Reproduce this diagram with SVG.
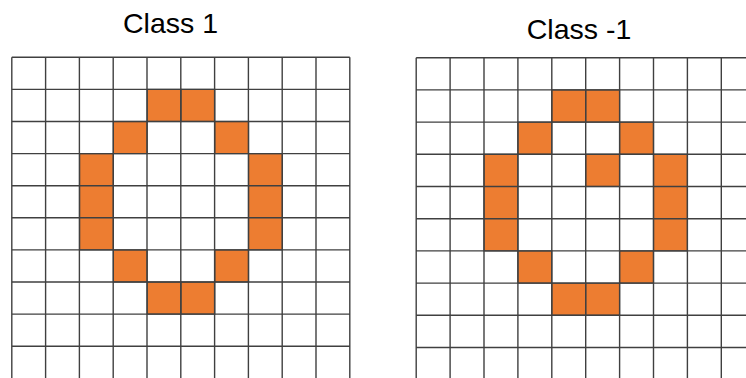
<svg xmlns="http://www.w3.org/2000/svg" width="746" height="378" viewBox="0 0 746 378">
<defs>
<style>
.t{font-family:"Liberation Sans",Arial,sans-serif;font-size:28.5px;fill:#000;text-anchor:middle}
.g{stroke:#404040;stroke-width:1.4;fill:none}
.o{fill:#ED7D31;stroke:#404040;stroke-width:1.2}
</style>
</defs>
<rect width="746" height="378" fill="#fff"/>
<g id="left">
<text class="t" x="170.5" y="32.5">Class 1</text>
<g id="left-cells">
<rect class="o" x="147.2" y="89.4" width="33.8" height="32.1"/>
<rect class="o" x="181" y="89.4" width="33.8" height="32.1"/>
<rect class="o" x="113.4" y="121.5" width="33.8" height="32.1"/>
<rect class="o" x="214.8" y="121.5" width="33.8" height="32.1"/>
<rect class="o" x="79.6" y="153.6" width="33.8" height="96.3"/>
<rect class="o" x="248.6" y="153.6" width="33.8" height="96.3"/>
<rect class="o" x="113.4" y="249.9" width="33.8" height="32.1"/>
<rect class="o" x="214.8" y="249.9" width="33.8" height="32.1"/>
<rect class="o" x="147.2" y="282" width="33.8" height="32.1"/>
<rect class="o" x="181" y="282" width="33.8" height="32.1"/>
</g>
<path class="g" d="M11.8 57.3V378.3M45.6 57.3V378.3M79.4 57.3V378.3M113.2 57.3V378.3M147 57.3V378.3M180.8 57.3V378.3M214.6 57.3V378.3M248.4 57.3V378.3M282.2 57.3V378.3M316 57.3V378.3M349.8 57.3V378.3M11.8 57.3H349.8M11.8 89.4H349.8M11.8 121.5H349.8M11.8 153.6H349.8M11.8 185.7H349.8M11.8 217.8H349.8M11.8 249.9H349.8M11.8 282H349.8M11.8 314.1H349.8M11.8 346.2H349.8"/>
</g>
<g id="right">
<text class="t" x="579" y="39.3">Class -1</text>
<g id="right-cells">
<rect class="o" x="551.8" y="89.9" width="33.9" height="32.2"/>
<rect class="o" x="585.7" y="89.9" width="33.9" height="32.2"/>
<rect class="o" x="517.9" y="122.1" width="33.9" height="32.2"/>
<rect class="o" x="619.6" y="122.1" width="33.9" height="32.2"/>
<rect class="o" x="484" y="154.3" width="33.9" height="96.6"/>
<rect class="o" x="585.7" y="154.3" width="33.9" height="32.2"/>
<rect class="o" x="653.5" y="154.3" width="33.9" height="96.6"/>
<rect class="o" x="517.9" y="250.9" width="33.9" height="32.2"/>
<rect class="o" x="619.6" y="250.9" width="33.9" height="32.2"/>
<rect class="o" x="551.8" y="283.1" width="33.9" height="32.2"/>
<rect class="o" x="585.7" y="283.1" width="33.9" height="32.2"/>
</g>
<path class="g" d="M416.2 57.7V380M450.1 57.7V380M484 57.7V380M517.9 57.7V380M551.8 57.7V380M585.7 57.7V380M619.6 57.7V380M653.5 57.7V380M687.4 57.7V380M721.3 57.7V380M416.2 57.7H750M416.2 89.9H750M416.2 122.1H750M416.2 154.3H750M416.2 186.5H750M416.2 218.7H750M416.2 250.9H750M416.2 283.1H750M416.2 315.3H750M416.2 347.5H750"/>
</g>
</svg>
